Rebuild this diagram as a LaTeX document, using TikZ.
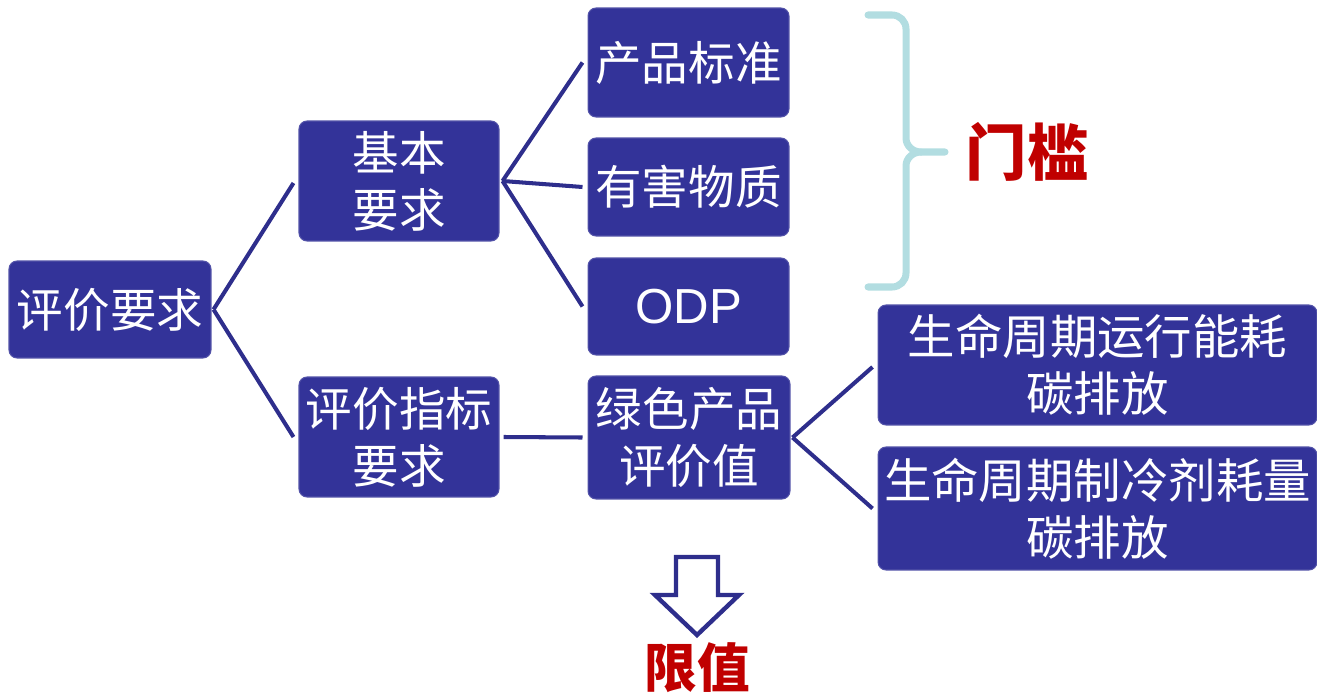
\documentclass[tikz,border=0pt]{standalone}
\usepackage{fontspec}
\newfontfamily\cjk{Noto Sans CJK SC}
\setsansfont{Liberation Sans}
\definecolor{boxblue}{HTML}{333399}
\definecolor{lineblue}{HTML}{2E2E8C}
\definecolor{bracecol}{HTML}{B2DDE1}
\definecolor{redtxt}{HTML}{C00000}
\begin{document}
\begin{tikzpicture}[x=0.02cm,y=-0.02cm,
  box/.style={fill=boxblue, draw=boxblue!85!white, line width=0.6pt, rounded corners=0.16cm, text=white, align=center, inner sep=0pt, font=\cjk\fontsize{26.5}{32.5}\selectfont},
  bigbox/.style={box, font=\cjk\fontsize{27}{32.5}\selectfont},
  conn/.style={draw=lineblue, line width=2.3pt},
  brace/.style={draw=bracecol, line width=4pt, line cap=round},
  redlabel/.style={text=redtxt, inner sep=0pt}]
\useasboundingbox (0,0) rectangle (1317,696);

\node[box, minimum width=4.04cm, minimum height=1.94cm] (pj) at (110,309.5) {评价要求};
\node[box, minimum width=4.0cm, minimum height=2.4cm] (jb) at (399,181) {基本\\要求};
\node[box, minimum width=4.0cm, minimum height=2.4cm] (zb) at (399,437) {评价指标\\要求};
\node[box, minimum width=4.02cm, minimum height=2.18cm] (cp) at (688.5,62.5) {产品标准};
\node[box, minimum width=4.02cm, minimum height=1.96cm] (yh) at (688.5,187) {有害物质};
\node[box, minimum width=4.02cm, minimum height=1.94cm, font=\sffamily\fontsize{28}{32}\selectfont] (odp) at (688.5,306.5) {ODP};
\node[box, minimum width=4.04cm, minimum height=2.46cm] (ls) at (689,437.5) {绿色产品\\评价值};
\node[bigbox, minimum width=8.78cm, minimum height=2.4cm] (sm1) at (1097.5,365) {生命周期运行能耗\\碳排放};
\node[bigbox, minimum width=8.78cm, minimum height=2.46cm] (sm2) at (1097.5,508.5) {生命周期制冷剂耗量\\碳排放};

\draw[conn] ([xshift=0.04cm]pj.east) -- ([xshift=-0.1cm,yshift=-0.04cm]jb.west);
\draw[conn] ([xshift=0.04cm]pj.east) -- ([xshift=-0.1cm]zb.west);
\draw[conn] ([xshift=0.06cm]jb.east) -- ([xshift=-0.1cm]cp.west);
\draw[conn] ([xshift=0.06cm]jb.east) -- ([xshift=-0.1cm]yh.west);
\draw[conn] ([xshift=0.06cm]jb.east) -- ([xshift=-0.1cm]odp.west);
\draw[conn] ([xshift=0.08cm]zb.east) -- ([xshift=-0.1cm]ls.west);
\draw[conn] ([xshift=0.04cm]ls.east) -- ([xshift=-0.1cm,yshift=-0.04cm]sm1.west);
\draw[conn] ([xshift=0.04cm]ls.east) -- ([xshift=-0.1cm]sm2.west);

% brace
\coordinate (btip) at (945,152);
\draw[brace] (868,15) -- (892,15) to[out=0,in=90] (906,29) -- (906,138) to[out=-90,in=180] (921,152) -- (btip);
\draw[brace] (921,152) to[out=180,in=90] (906,166) -- (906,273) to[out=-90,in=0] (892,287) -- (868,287);

\node[redlabel, font=\cjk\bfseries\fontsize{35}{38}\selectfont] (mk) at (1027,152) {门槛};

% down arrow
\draw[draw=lineblue, line width=2.5pt, fill=white, line join=miter] (676,557) -- (718,557) -- (718,595) -- (739,595) -- (697,635) -- (655,595) -- (676,595) -- cycle;
\node[redlabel, font=\cjk\bfseries\fontsize{30}{32}\selectfont] (xz) at (697,668) {限值};
\end{tikzpicture}
\end{document}
